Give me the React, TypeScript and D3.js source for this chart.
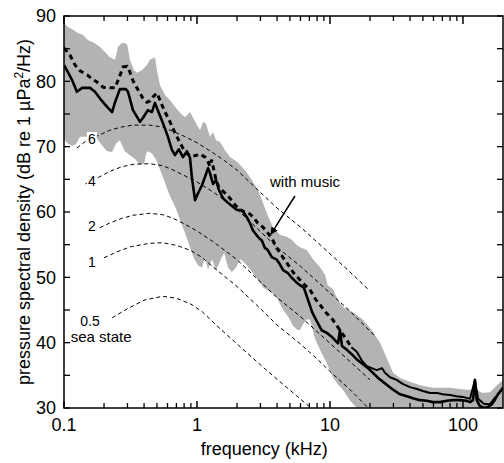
import React from "react";
import * as d3 from "d3";

// ---------- data (frequency in kHz, level in dB re 1 µPa²/Hz) ----------
const bandUpper: [number, number][] = [
  [0.1, 88.9], [0.107, 88.3], [0.117, 87.9], [0.127, 87.4], [0.139, 87.1], [0.152, 86.3],
  [0.165, 86.0], [0.186, 85.3], [0.203, 84.5], [0.221, 83.7], [0.242, 83.3], [0.255, 85.3],
  [0.273, 85.9], [0.298, 85.7], [0.313, 83.3], [0.336, 81.7], [0.354, 81.3], [0.385, 81.7],
  [0.42, 82.5], [0.443, 83.3], [0.483, 83.7], [0.5, 81.7], [0.527, 79.4], [0.575, 77.9],
  [0.627, 77.1], [0.683, 76.1], [0.745, 75.2], [0.813, 74.5], [0.886, 75.3], [0.93, 74.5],
  [1.0, 73.3], [1.054, 72.5], [1.11, 73.8], [1.17, 73.5], [1.25, 71.5], [1.32, 72.2],
  [1.39, 71.0], [1.49, 70.7], [1.62, 69.5], [1.77, 68.4], [2.0, 67.7], [2.18, 66.9],
  [2.37, 66.0], [2.58, 64.9], [2.87, 63.4], [3.13, 61.4], [3.4, 59.5], [3.72, 57.7],
  [4.2, 56.5], [4.74, 56.2], [5.18, 55.7], [5.65, 54.9], [5.95, 54.6], [6.7, 54.2],
  [7.5, 52.7], [8.41, 51.6], [9.17, 50.4], [9.6, 48.8], [10.5, 48.2], [11.5, 46.5],
  [12.5, 45.5], [14.8, 44.7], [17.7, 43.5], [20.6, 41.9], [23.8, 40.0], [26.5, 37.8],
  [29.8, 35.4], [33.6, 34.6], [40, 34.0], [47.5, 33.5], [59.3, 33.1], [79.9, 33.1],
  [106, 32.8], [127, 32.8], [140, 32.3], [160, 32.4], [180, 33.5], [200, 34.3],
];

const bandLower: [number, number][] = [
  [0.1, 71.2], [0.105, 70.6], [0.115, 70.1], [0.123, 70.4], [0.132, 71.5], [0.157, 71.5],
  [0.177, 71.2], [0.197, 70.0], [0.211, 69.3], [0.23, 69.2], [0.246, 70.5], [0.263, 71.0],
  [0.287, 69.3], [0.313, 68.7], [0.342, 68.1], [0.373, 67.2], [0.4, 67.4], [0.42, 69.3],
  [0.458, 69.0], [0.492, 68.0], [0.527, 66.5], [0.565, 64.9], [0.605, 63.2], [0.648, 61.8],
  [0.696, 60.5], [0.745, 58.8], [0.813, 56.8], [0.886, 54.6], [0.95, 52.9], [1.02, 51.8],
  [1.09, 51.5], [1.15, 53.0], [1.21, 51.2], [1.3, 52.8], [1.39, 51.0], [1.49, 52.5],
  [1.6, 53.8], [1.71, 51.5], [1.83, 50.8], [1.97, 51.5], [2.1, 52.8], [2.29, 52.2],
  [2.5, 51.3], [2.78, 50.0], [3.13, 48.5], [3.4, 48.0], [3.72, 47.6], [4.05, 46.6],
  [4.44, 45.0], [4.84, 44.0], [5.27, 42.6], [5.65, 42.0], [5.95, 41.9], [6.25, 42.8],
  [6.7, 43.6], [7.07, 43.5], [7.72, 40.6], [8.41, 38.9], [9.46, 36.9], [10.5, 34.7],
  [11.5, 33.6], [12.5, 32.8], [14.1, 31.2], [15.9, 30.0], [200, 30.0],
];

const meanLevel: [number, number][] = [
  [0.1, 82.5], [0.107, 81.4], [0.115, 80.2], [0.125, 78.4], [0.137, 79.0], [0.157, 79.0],
  [0.171, 78.4], [0.186, 77.4], [0.211, 76.1], [0.23, 75.3], [0.242, 76.8], [0.263, 78.8],
  [0.292, 78.8], [0.303, 78.4], [0.33, 75.6], [0.373, 73.8], [0.392, 74.4], [0.428, 75.6],
  [0.458, 75.3], [0.483, 76.7], [0.509, 75.5], [0.555, 73.6], [0.605, 71.5], [0.648, 69.5],
  [0.683, 68.7], [0.73, 69.6], [0.785, 68.4], [0.84, 69.3], [0.886, 68.3], [0.917, 65.2],
  [0.967, 61.8], [1.02, 62.9], [1.09, 64.1], [1.15, 65.4], [1.21, 66.7], [1.25, 66.0],
  [1.32, 64.3], [1.39, 64.9], [1.46, 63.4], [1.57, 62.1], [1.71, 61.4], [1.86, 60.8],
  [2.0, 60.3], [2.18, 60.3], [2.37, 59.2], [2.5, 58.3], [2.63, 57.2], [2.87, 56.2],
  [3.08, 55.6], [3.24, 54.5], [3.4, 54.2], [3.65, 53.1], [3.98, 52.7], [4.2, 52.0],
  [4.44, 51.1], [4.8, 50.7], [5.18, 49.9], [5.55, 49.3], [5.95, 48.8], [6.36, 48.4],
  [6.85, 46.5], [7.33, 44.7], [7.72, 43.8], [8.1, 43.0], [8.67, 41.9], [9.46, 41.5],
  [10.3, 40.9], [10.9, 40.4], [11.5, 39.9], [11.9, 41.9], [12.3, 39.5], [13.4, 38.9],
  [14.8, 38.1], [16.2, 37.3], [17.7, 36.7], [19.3, 36.1], [21.0, 35.4], [23.0, 34.6],
  [25.1, 34.0], [27.3, 33.4], [29.8, 32.8], [33.6, 32.1], [37.9, 31.8], [42.0, 31.5],
  [47.5, 31.2], [53.5, 31.1], [59.3, 30.9], [67.2, 30.9], [75.8, 31.1], [84.0, 31.2],
  [95.0, 31.2], [105.7, 31.1], [113, 30.9], [119, 31.2], [123, 34.3], [127, 31.2],
  [134, 30.3], [144, 30.0], [155, 30.2], [165, 30.6], [173, 31.2], [183, 32.1], [200, 33.1],
];

const musicLevel: [number, number][] = [
  [0.1, 85.1], [0.111, 84.0], [0.121, 82.5], [0.132, 81.6], [0.149, 81.0], [0.162, 80.4],
  [0.177, 79.9], [0.197, 79.1], [0.221, 79.0], [0.242, 79.0], [0.259, 80.5], [0.278, 82.2],
  [0.298, 82.3], [0.313, 81.4], [0.33, 80.1], [0.36, 78.7], [0.392, 77.4], [0.42, 76.8],
  [0.443, 77.0], [0.466, 77.6], [0.5, 78.2], [0.527, 77.1], [0.575, 75.3], [0.627, 73.8],
  [0.683, 72.1], [0.745, 70.6], [0.813, 69.2], [0.886, 68.6], [0.967, 68.6], [1.054, 68.9],
  [1.15, 68.4], [1.21, 67.7], [1.25, 67.0], [1.29, 68.0], [1.34, 66.4], [1.39, 64.9],
  [1.46, 63.8], [1.62, 62.9], [1.77, 62.1], [1.93, 61.1], [2.1, 60.3], [2.29, 60.0],
  [2.5, 59.7], [2.68, 59.1], [2.87, 58.3], [3.13, 57.7], [3.4, 56.8], [3.65, 56.0],
  [3.98, 54.5], [4.35, 53.3], [4.74, 52.2], [5.27, 50.8], [5.95, 49.6], [6.48, 48.8],
  [7.07, 48.1], [7.87, 46.5], [8.41, 45.8], [9.25, 44.7], [10.5, 43.5], [11.9, 41.9],
  [13.4, 40.4], [14.5, 39.3], [15.9, 38.6], [17.3, 37.3], [18.9, 36.4], [20.6, 36.1],
  [22.5, 35.8], [24.6, 36.1], [25.9, 35.4], [28.3, 34.7], [31.7, 34.3], [35.2, 33.7],
  [40.0, 33.2], [45.1, 32.9], [49.9, 32.6], [56.5, 32.3], [63.8, 32.3], [70.5, 32.1],
  [79.9, 32.0], [89.8, 31.8], [100, 31.7], [113, 31.4], [123, 34.3], [130, 31.4],
  [144, 30.6], [160, 30.6], [173, 31.5], [190, 32.4], [200, 33.1],
];

const seaState6: [number, number][] = [
  [0.125, 69.8], [0.145, 70.8], [0.165, 71.4], [0.186, 71.8], [0.22, 72.5], [0.27, 73.0],
  [0.33, 73.3], [0.44, 73.3], [0.55, 73.0], [0.65, 72.4], [0.8, 71.6], [1.0, 70.6],
  [1.29, 69.2], [1.6, 67.9], [2.0, 66.4], [3.0, 63.0], [4.0, 60.6], [6.0, 57.7],
  [8.0, 55.4], [10, 53.6], [14, 50.9], [19.3, 48.2],
];
const seaState4: [number, number][] = [
  [0.145, 64.3], [0.165, 64.9], [0.186, 65.4], [0.22, 66.2], [0.27, 66.9], [0.33, 67.3],
  [0.44, 67.4], [0.55, 67.1], [0.65, 66.5], [0.8, 65.6], [1.0, 64.6], [1.29, 63.2],
  [1.6, 61.9], [2.0, 60.4], [3.0, 57.0], [4.0, 54.6], [6.0, 51.7], [8.0, 49.4],
  [10, 47.6], [14, 44.9], [21.8, 41.0],
];
const seaState2: [number, number][] = [
  [0.186, 57.6], [0.22, 58.3], [0.27, 59.0], [0.33, 59.5], [0.44, 59.8], [0.55, 59.6],
  [0.65, 59.1], [0.8, 58.2], [1.0, 57.1], [1.29, 55.6], [1.6, 54.2], [2.0, 52.7],
  [3.0, 49.3], [4.0, 46.9], [6.0, 44.0], [8.0, 41.7], [10, 39.9], [14, 37.2], [20, 34.3],
];
const seaState1: [number, number][] = [
  [0.2, 53.0], [0.25, 53.9], [0.32, 54.7], [0.44, 55.2], [0.55, 55.3], [0.7, 54.9],
  [0.9, 54.1], [1.1, 53.0], [1.3, 51.7], [1.6, 50.2], [2.0, 48.6], [3.0, 45.2],
  [4.0, 42.7], [6.0, 39.8], [8.0, 37.5], [10, 35.6], [14, 32.9], [19, 30.2],
];
const seaState05: [number, number][] = [
  [0.23, 43.8], [0.3, 45.2], [0.4, 46.5], [0.55, 47.1], [0.7, 46.8], [0.9, 45.9],
  [1.1, 44.7], [1.41, 42.6], [2.0, 39.8], [3.0, 36.6], [4.0, 34.4], [5.74, 31.7], [7.2, 30.0],
];

const seaLabels = ["6", "4", "2", "1", "0.5"];
const seaLabelPos: [number, number][] = [
  [0.162, 70.4], [0.162, 64.0], [0.162, 57.1], [0.162, 51.6], [0.157, 42.6],
];

const xMajorTicks = [0.1, 1, 10, 100];
const xTickLabels = ["0.1", "1", "10", "100"];
const xMinorTicks = [
  0.2, 0.3, 0.4, 0.5, 0.6, 0.7, 0.8, 0.9, 2, 3, 4, 5, 6, 7, 8, 9,
  20, 30, 40, 50, 60, 70, 80, 90,
];
const yMajorTicks = [30, 40, 50, 60, 70, 80, 90];
const yMinorTicks = [35, 45, 55, 65, 75, 85];

const W = 504;
const H = 463;
const FONT = "'Liberation Sans', Arial, Helvetica, sans-serif";

export default function App() {
  const x = d3.scaleLog().domain([0.1, 200]).range([64, 503]);
  const y = d3.scaleLinear().domain([30, 90]).range([408, 16]);
  const line = d3
    .line<[number, number]>()
    .x((d) => x(d[0]))
    .y((d) => y(d[1]));

  const bandPath =
    line([...bandUpper, ...bandLower.slice().reverse()]) + "Z";

  const seaCurves = [seaState6, seaState4, seaState2, seaState1, seaState05];

  const musicDashed = musicLevel.filter((d) => d[0] <= 14.5);
  const musicSolid = musicLevel.filter((d) => d[0] >= 14.5);

  const arrowStart: [number, number] = [5.45, 62.45];
  const arrowEnd: [number, number] = [3.6, 56.6];

  return (
    <svg
      width={W}
      height={H}
      style={{ position: "absolute", left: 0, top: 0, background: "#fff" }}
      fontFamily={FONT}
    >
      <defs>
        <clipPath id="plotClip">
          <rect x={64} y={16} width={439} height={392} />
        </clipPath>
        <marker
          id="arrowHead"
          viewBox="0 0 10 10"
          refX="9"
          refY="5"
          markerWidth="5"
          markerHeight="5"
          orient="auto"
        >
          <path d="M0,0 L10,5 L0,10 Z" fill="#000" />
        </marker>
      </defs>

      <g clipPath="url(#plotClip)">
        <path d={bandPath} fill="#b3b3b3" stroke="none" />
        {seaCurves.map((c, i) => (
          <path
            key={i}
            d={line(c) || ""}
            fill="none"
            stroke="#000"
            strokeWidth={1}
            strokeDasharray="4,3"
          />
        ))}
        <path
          d={line(musicDashed) || ""}
          fill="none"
          stroke="#000"
          strokeWidth={3}
          strokeDasharray="5,4"
        />
        <path
          d={line(musicSolid) || ""}
          fill="none"
          stroke="#000"
          strokeWidth={2}
          strokeLinejoin="round"
        />
        <path
          d={line(meanLevel) || ""}
          fill="none"
          stroke="#000"
          strokeWidth={2.6}
          strokeLinejoin="round"
        />
      </g>

      {/* sea-state labels */}
      {seaLabels.map((t, i) => {
        const px = x(seaLabelPos[i][0]);
        const py = y(seaLabelPos[i][1]);
        const withBg = i < 2;
        return (
          <g key={t}>
            {withBg && (
              <rect x={px - 5} y={py - 12} width={10} height={14} fill="#fff" />
            )}
            <text x={px} y={py} fontSize={14} textAnchor="middle" fill="#000">
              {t}
            </text>
          </g>
        );
      })}
      <text x={x(0.19)} y={y(40.1)} fontSize={15} textAnchor="middle" fill="#000">
        sea state
      </text>

      {/* annotation */}
      <text x={x(6.49)} y={y(63.8)} fontSize={15} textAnchor="middle" fill="#000">
        with music
      </text>
      <line
        x1={x(arrowStart[0])}
        y1={y(arrowStart[1])}
        x2={x(arrowEnd[0])}
        y2={y(arrowEnd[1])}
        stroke="#000"
        strokeWidth={1.5}
        markerEnd="url(#arrowHead)"
      />

      {/* frame */}
      <rect x={64} y={16} width={439} height={392} fill="none" stroke="#000" strokeWidth={1.5} />

      {/* x ticks bottom & top */}
      {xMajorTicks.map((t) => (
        <g key={"xM" + t}>
          <line x1={x(t)} x2={x(t)} y1={408} y2={401} stroke="#000" strokeWidth={1.5} />
          <line x1={x(t)} x2={x(t)} y1={16} y2={24} stroke="#000" strokeWidth={1.5} />
        </g>
      ))}
      {xMinorTicks.map((t) => (
        <g key={"xm" + t}>
          <line x1={x(t)} x2={x(t)} y1={408} y2={403} stroke="#000" strokeWidth={1.3} />
          <line x1={x(t)} x2={x(t)} y1={16} y2={21} stroke="#000" strokeWidth={1.3} />
        </g>
      ))}
      {xMajorTicks.map((t, i) => (
        <text key={"xl" + t} x={x(t)} y={431} fontSize={18} textAnchor="middle" fill="#000">
          {xTickLabels[i]}
        </text>
      ))}

      {/* y ticks left & right */}
      {[...yMajorTicks, ...yMinorTicks].map((t) => (
        <g key={"y" + t}>
          <line x1={64} x2={70} y1={y(t)} y2={y(t)} stroke="#000" strokeWidth={1.3} />
          <line x1={503} x2={497} y1={y(t)} y2={y(t)} stroke="#000" strokeWidth={1.3} />
        </g>
      ))}
      {yMajorTicks.map((t) => (
        <text
          key={"yl" + t}
          x={56}
          y={y(t)}
          dy="0.35em"
          fontSize={18}
          textAnchor="end"
          fill="#000"
        >
          {t}
        </text>
      ))}

      {/* axis titles */}
      <text x={x(3.2)} y={455} fontSize={18} textAnchor="middle" fill="#000">
        frequency (kHz)
      </text>
      <text
        transform={`translate(30, ${(16 + 408) / 2}) rotate(-90)`}
        fontSize={18}
        textAnchor="middle"
        fill="#000"
      >
        pressure spectral density (dB re 1 µPa
        <tspan dy={-7} fontSize={12}>2</tspan>
        <tspan dy={7}>/Hz)</tspan>
      </text>
    </svg>
  );
}
